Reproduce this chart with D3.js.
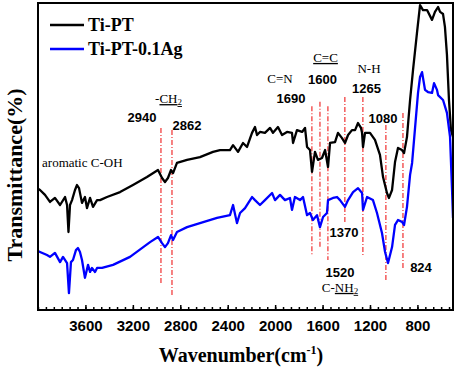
<!DOCTYPE html>
<html>
<head>
<meta charset="utf-8">
<script src="https://cdn.jsdelivr.net/npm/d3@7"></script>
<style>
body { margin: 0; background: #fff; }
svg { display: block; }
</style>
</head>
<body>
<div id="chart"></div>
<script>
// spectra: [wavenumber, transmittance]
const tiPT = [
    [4000, 39.5], [3983, 39.1], [3941, 37.5], [3899, 35.2], [3857, 36.5], [3814, 34.2], [3772, 36.8],
    [3755, 34.2], [3743, 25.4], [3730, 34.2], [3713, 35.8], [3688, 39.1], [3671, 40.7], [3654, 39.7],
    [3629, 34.9], [3604, 36.8], [3587, 33.2], [3561, 36.5], [3536, 33.6], [3502, 35.8], [3477, 35.8],
    [3418, 36.8], [3308, 38.4], [3199, 40.7], [3081, 43.3], [2988, 45.6], [2954, 43.0], [2929, 41.7],
    [2904, 43.0], [2878, 45.6], [2861, 44.6], [2828, 47.9], [2743, 48.9], [2634, 49.8], [2524, 51.5],
    [2465, 52.1], [2381, 52.1], [2355, 53.7], [2313, 51.5], [2271, 54.4], [2237, 53.1], [2195, 57.7],
    [2170, 59.6], [2153, 57.0], [2128, 58.0], [2086, 57.7], [2043, 59.3], [2018, 57.7], [1976, 59.6],
    [1942, 57.0], [1900, 58.0], [1858, 57.7], [1849, 54.4], [1816, 58.6], [1773, 58.0], [1748, 59.3],
    [1731, 53.1], [1706, 52.1], [1689, 45.0], [1664, 51.5], [1639, 48.9], [1605, 49.5], [1579, 52.1],
    [1554, 46.6], [1537, 54.4], [1495, 54.7], [1470, 57.7], [1436, 56.0], [1411, 54.4], [1385, 57.0],
    [1352, 58.6], [1326, 58.6], [1301, 60.9], [1276, 59.3], [1267, 57.7], [1259, 53.1], [1242, 57.7],
    [1200, 57.7], [1158, 55.4], [1116, 50.5], [1090, 43.3], [1057, 38.1], [1040, 36.5], [1014, 39.1],
    [989, 48.2], [964, 52.8], [930, 52.1], [913, 51.1], [888, 56.4], [862, 68.4], [837, 78.2],
    [804, 90.2], [778, 99.3], [753, 97.7], [719, 97.7], [677, 94.5], [652, 97.1], [626, 98.7],
    [609, 97.1], [584, 96.4], [568, 92.2], [551, 83.1], [534, 68.4], [517, 58.6], [500, 56.4]
];

const tiPTAg = [
    [4000, 19.2], [3983, 18.9], [3924, 17.9], [3899, 17.3], [3857, 18.6], [3814, 15.6], [3789, 17.3],
    [3755, 15.3], [3739, 5.5], [3722, 15.6], [3705, 16.3], [3680, 19.5], [3663, 20.2], [3646, 18.9],
    [3629, 16.3], [3604, 10.5], [3578, 14.7], [3561, 12.4], [3545, 13.7], [3519, 12.4], [3502, 13.7],
    [3460, 13.7], [3367, 14.7], [3224, 17.3], [3055, 22.1], [2988, 23.8], [2954, 21.8], [2929, 20.5],
    [2904, 21.8], [2878, 24.4], [2861, 22.8], [2828, 25.4], [2743, 27.0], [2634, 28.3], [2490, 30.0],
    [2381, 30.9], [2355, 34.2], [2322, 28.3], [2296, 31.6], [2254, 33.2], [2195, 36.8], [2170, 35.8],
    [2128, 34.2], [2086, 35.8], [2026, 38.1], [2001, 35.8], [1959, 37.5], [1917, 35.8], [1875, 36.5],
    [1858, 32.6], [1833, 36.8], [1790, 35.8], [1765, 36.8], [1731, 30.9], [1706, 31.6], [1681, 29.3],
    [1647, 30.9], [1622, 27.0], [1596, 30.3], [1563, 31.6], [1554, 35.8], [1512, 36.5], [1478, 36.8],
    [1453, 35.8], [1411, 33.6], [1385, 35.8], [1343, 38.4], [1301, 39.7], [1267, 38.1], [1259, 32.6],
    [1225, 36.8], [1175, 35.8], [1141, 31.6], [1099, 25.1], [1073, 18.9], [1048, 15.3], [1014, 20.5],
    [989, 27.7], [964, 29.3], [930, 28.7], [913, 27.7], [888, 33.6], [862, 44.0], [845, 47.9],
    [820, 59.3], [795, 70.7], [778, 75.9], [761, 77.5], [736, 71.7], [711, 71.0], [677, 70.7],
    [660, 73.9], [635, 71.7], [626, 70.0], [584, 68.4], [551, 64.2], [525, 56.4], [508, 39.1], [500, 30.0]
];

const seriesNames = ['Ti-PT', 'Ti-PT-0.1Ag'];
const seriesColors = ['#000000', '#0000ff'];

// red dash-dot marker lines
const markerWave = [2963, 2870, 1690, 1622, 1555, 1412, 1260, 1066, 922];
const markerTop = [59.3, 58.6, 66.4, 67.8, 66.4, 69.4, 69.4, 60.3, 64.2];
const markerBottom = [8.8, 4.2, 17.9, 20.2, 16.3, 28.3, 17.3, 9.8, 13.7];

// band labels: text, wavenumber, transmittance
const bandLabels = [
    ['2940', 3123, 61.2], ['2862', 2743, 58.6], ['1690', 1866, 67.4], ['1600', 1601, 73.6],
    ['1265', 1230, 70.7], ['1080', 1090, 60.9], ['1370', 1419, 23.8], ['1520', 1453, 10.7],
    ['824', 770, 12.4]
];
const groupLabels = [
    ['aromatic C-OH', 3966, 46.6], ['C=N', 1959, 73.9], ['N-H', 1208, 77.2]
];

const xTickLabels = [3600, 3200, 2800, 2400, 2000, 1600, 1200, 800];

const width = 457, height = 369;
const margin = {top: 3, right: 4, bottom: 59, left: 38};

const svg = d3.select('#chart')
    .append('svg')
    .attr('width', width)
    .attr('height', height);

const x = d3.scaleLinear().domain([4000, 500]).range([margin.left, width - margin.right]);
const y = d3.scaleLinear().domain([0, 100]).range([height - margin.bottom, margin.top]);

svg.append('clipPath').attr('id', 'plot-clip')
    .append('rect')
    .attr('x', margin.left)
    .attr('y', margin.top)
    .attr('width', width - margin.left - margin.right)
    .attr('height', height - margin.top - margin.bottom);

// marker lines
svg.append('g')
    .selectAll('line')
    .data(markerWave)
    .enter()
    .append('line')
    .attr('x1', (d) => x(d))
    .attr('x2', (d) => x(d))
    .attr('y1', (d, i) => y(markerTop[i]))
    .attr('y2', (d, i) => y(markerBottom[i]))
    .attr('stroke', '#f03030')
    .attr('stroke-width', 1.2)
    .attr('stroke-dasharray', '5,2,1,2');

const line = d3.line()
    .x((d) => x(d[0]))
    .y((d) => y(d[1]));

const curves = svg.append('g').attr('clip-path', 'url(#plot-clip)');
[tiPT, tiPTAg].forEach((s, i) => {
    curves.append('path')
        .datum(s)
        .attr('d', line)
        .attr('fill', 'none')
        .attr('stroke', seriesColors[i])
        .attr('stroke-width', 2.3)
        .attr('stroke-linejoin', 'round');
});

// axis ticks
const minorTicks = d3.range(0, 60).map((i) => 4000 - i * 400 / 6).filter((v) => v > 500);
svg.append('g')
    .attr('transform', `translate(0,${height - margin.bottom})`)
    .call(d3.axisBottom(x).tickValues(minorTicks).tickSize(-3).tickFormat(''))
    .call((g) => g.select('.domain').remove())
    .selectAll('line').attr('stroke-width', 1.5);

const xAxis = svg.append('g')
    .attr('transform', `translate(0,${height - margin.bottom})`)
    .call(d3.axisBottom(x).tickValues(xTickLabels).tickSize(-5).tickPadding(10).tickFormat(d3.format('d')));
xAxis.select('.domain').remove();
xAxis.selectAll('line').attr('stroke-width', 1.5);
xAxis.selectAll('text')
    .attr('font-family', 'Liberation Sans, Arial, sans-serif')
    .attr('font-weight', 'bold')
    .attr('font-size', 15)
    .attr('fill', '#000');

// frame
svg.append('rect')
    .attr('x', margin.left)
    .attr('y', margin.top)
    .attr('width', width - margin.left - margin.right)
    .attr('height', height - margin.top - margin.bottom)
    .attr('fill', 'none')
    .attr('stroke', '#000')
    .attr('stroke-width', 2);

// band numbers
svg.append('g')
    .selectAll('text')
    .data(bandLabels)
    .enter()
    .append('text')
    .attr('x', (d) => x(d[1]))
    .attr('y', (d) => y(d[2]))
    .attr('text-anchor', 'middle')
    .attr('font-family', 'Liberation Sans, Arial, sans-serif')
    .attr('font-weight', 'bold')
    .attr('font-size', 13)
    .text((d) => d[0]);

const serif = 'Liberation Serif, Times New Roman, serif';

svg.append('g')
    .selectAll('text')
    .data(groupLabels)
    .enter()
    .append('text')
    .attr('x', (d) => x(d[1]))
    .attr('y', (d) => y(d[2]))
    .attr('text-anchor', (d, i) => i === 0 ? 'start' : 'middle')
    .attr('font-family', serif)
    .attr('font-size', 13)
    .text((d) => d[0]);

// labels with underlined parts
const ch2 = svg.append('text')
    .attr('x', x(2899)).attr('y', y(67.4))
    .attr('text-anchor', 'middle')
    .attr('font-family', serif).attr('font-size', 13);
ch2.append('tspan').text('-');
const ch2u = ch2.append('tspan').attr('text-decoration', 'underline');
ch2u.append('tspan').text('CH');
ch2u.append('tspan').attr('font-size', 9).attr('dy', 2).text('2');

svg.append('text')
    .attr('x', x(1575)).attr('y', y(80.8))
    .attr('text-anchor', 'middle')
    .attr('font-family', serif).attr('font-size', 13)
    .attr('text-decoration', 'underline')
    .text('C=C');

const nh2 = svg.append('text')
    .attr('x', x(1453)).attr('y', y(5.9))
    .attr('text-anchor', 'middle')
    .attr('font-family', serif).attr('font-size', 13);
nh2.append('tspan').text('C-');
const nh2u = nh2.append('tspan').attr('text-decoration', 'underline');
nh2u.append('tspan').text('NH');
nh2u.append('tspan').attr('font-size', 9).attr('dy', 2).text('2');

// legend
const legend = svg.append('g');
seriesNames.forEach((name, i) => {
    legend.append('line')
        .attr('x1', 50).attr('x2', 84)
        .attr('y1', 25 + i * 24).attr('y2', 25 + i * 24)
        .attr('stroke', seriesColors[i])
        .attr('stroke-width', 2.3);
    legend.append('text')
        .attr('x', 88).attr('y', 31 + i * 24)
        .attr('font-family', serif)
        .attr('font-weight', 'bold')
        .attr('font-size', 18)
        .text(name);
});

// axis titles
const xTitle = svg.append('text')
    .attr('x', 241).attr('y', 362)
    .attr('text-anchor', 'middle')
    .attr('font-family', serif)
    .attr('font-weight', 'bold')
    .attr('font-size', 20);
xTitle.append('tspan').text('Wavenumber(cm');
xTitle.append('tspan').attr('font-size', 12).attr('dy', -8).text('-1');
xTitle.append('tspan').attr('dy', 8).text(')');

svg.append('text')
    .attr('transform', 'translate(22,175) rotate(-90)')
    .attr('text-anchor', 'middle')
    .attr('font-family', serif)
    .attr('font-weight', 'bold')
    .attr('font-size', 22)
    .text('Transmittance(%)');
</script>
</body>
</html>
